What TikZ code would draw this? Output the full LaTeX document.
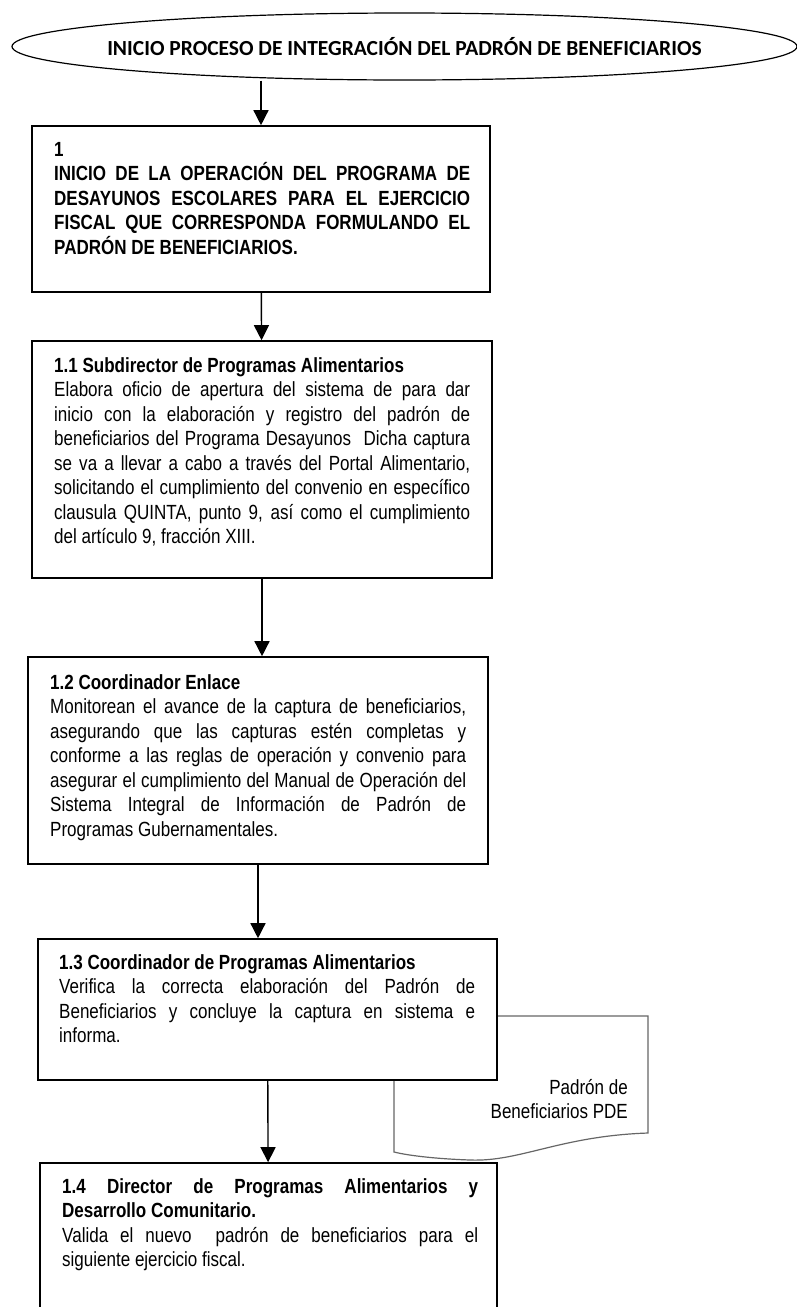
\documentclass[tikz,border=0pt]{standalone}
\usepackage{fontspec}
\setmainfont{Liberation Sans}[FakeStretch=0.83]
\newfontfamily\titlefont{Carlito}
\usetikzlibrary{arrows.meta,shapes.geometric}
\hyphenpenalty=10000
\exhyphenpenalty=10000
\begin{document}
\begin{tikzpicture}[x=1pt,y=-1pt,
	box/.style={draw,line width=1.6pt,fill=white,inner sep=0pt},
	txt/.style={anchor=north west,inner sep=0pt,text width=416pt,align=justify,font=\fontsize{20.5}{24.5}\selectfont},
	flecha/.style={draw,line width=1.4pt,-{Triangle[width=15pt,length=15pt]}},
	doc/.style={draw=black!60,line width=1.2pt}]
	\clip (0,0) rectangle (797,1307);

	\node[draw,ellipse,line width=1.2pt,minimum width=785pt,minimum height=67pt,inner sep=0pt] (inicio) at (404.5,46.5) {};
	\node[inner sep=0pt,font=\titlefont\bfseries\fontsize{21.5}{24}\selectfont] (titulo) at (inicio) {INICIO PROCESO DE INTEGRACIÓN DEL PADRÓN DE BENEFICIARIOS};

	% documento de salida
	\path[doc] (497,1016) -- (648,1016) -- (648,1133) .. controls (560,1136) and (520,1162) .. (470,1160) .. controls (440,1159) and (410,1156) .. (394,1152) -- (394,1080);
	\node[anchor=north east,align=right,inner sep=0pt,font=\fontsize{20.5}{24}\selectfont] (padron) at (628,1079) {Padrón de\\Beneficiarios PDE};

	\node[box,minimum width=458pt,minimum height=166pt] (paso1) at (261,209) {};
	\node[box,minimum width=460pt,minimum height=237pt] (paso11) at (262,459.5) {};
	\node[box,minimum width=460pt,minimum height=207pt] (paso12) at (258,760.5) {};
	\node[box,minimum width=459pt,minimum height=141pt] (paso13) at (267.5,1009.5) {};
	\node[box,minimum width=457pt,minimum height=200pt] (paso14) at (268.5,1263) {};

	\node[txt] (texto1) at (54,142) {\bfseries 1\\
		INICIO DE LA OPERACIÓN DEL PROGRAMA DE\linebreak
		DESAYUNOS ESCOLARES PARA EL EJERCICIO\linebreak
		FISCAL QUE CORRESPONDA FORMULANDO EL\linebreak
		PADRÓN DE BENEFICIARIOS.};
	\node[txt] (texto11) at (54,357) {\textbf{1.1 Subdirector de Programas Alimentarios}\\
		Elabora oficio de apertura del sistema de para dar\linebreak
		inicio con la elaboración y registro del padrón de\linebreak
		beneficiarios del Programa Desayunos\ \ Dicha captura\linebreak
		se va a llevar a cabo a través del Portal Alimentario,\linebreak
		solicitando el cumplimiento del convenio en específico\linebreak
		clausula QUINTA, punto 9, así como el cumplimiento\linebreak
		del artículo 9, fracción XIII.};
	\node[txt] (texto12) at (50,674) {\textbf{1.2 Coordinador Enlace}\\
		Monitorean el avance de la captura de beneficiarios,\linebreak
		asegurando que las capturas estén completas y\linebreak
		conforme a las reglas de operación y convenio para\linebreak
		asegurar el cumplimiento del Manual de Operación del\linebreak
		Sistema Integral de Información de Padrón de\linebreak
		Programas Gubernamentales.};
	\node[txt] (texto13) at (59,954) {\textbf{1.3 Coordinador de Programas Alimentarios}\\
		Verifica la correcta elaboración del Padrón de\linebreak
		Beneficiarios y concluye la captura en sistema e\linebreak
		informa.};
	\node[txt] (texto14) at (62,1178) {\textbf{1.4 Director de Programas Alimentarios y\linebreak
		Desarrollo Comunitario.}\\
		Valida el nuevo\ \ padrón de beneficiarios para el\linebreak
		siguiente ejercicio fiscal.};

	\path[flecha] (paso1.north |- inicio.south) -- (paso1.north);
	\path[flecha] (paso1) -- (paso11);
	\path[flecha] (paso11.south) -- (paso11.south |- paso12.north);
	\path[flecha] (paso12.south) -- (paso12.south |- paso13.north);
	\path[flecha] (paso13) -- (paso14);
\end{tikzpicture}
\end{document}
